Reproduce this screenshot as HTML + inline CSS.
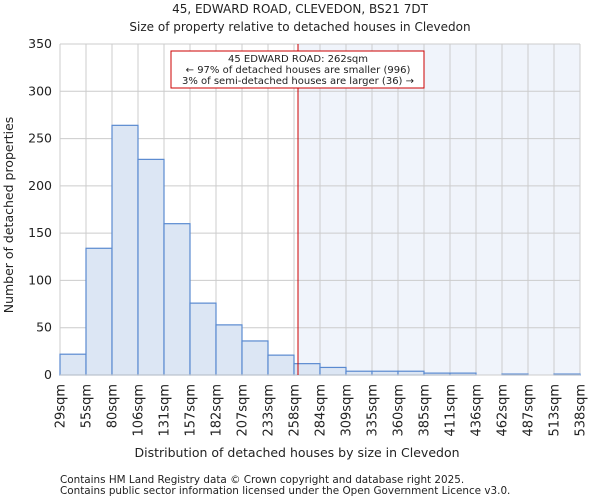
<!DOCTYPE html>
<html><head><meta charset="utf-8"><style>
body{margin:0;background:#fff;font-family:"DejaVu Sans","Liberation Sans",sans-serif}
text{font-family:"DejaVu Sans","Liberation Sans",sans-serif;fill:#222}
</style></head><body>
<svg id="c" width="600" height="500" xmlns="http://www.w3.org/2000/svg">
<text x="300" y="13" font-size="12" text-anchor="middle">45, EDWARD ROAD, CLEVEDON, BS21 7DT</text>
<text x="300" y="31" font-size="12" text-anchor="middle">Size of property relative to detached houses in Clevedon</text>
<g id="plot"></g>
<text x="297" y="457" font-size="12.5" text-anchor="middle">Distribution of detached houses by size in Clevedon</text>
<text transform="translate(13,215) rotate(-90)" font-size="12.5" text-anchor="middle">Number of detached properties</text>
<text x="60" y="483" font-size="10.4">Contains HM Land Registry data © Crown copyright and database right 2025.</text>
<text x="60" y="494" font-size="10.4">Contains public sector information licensed under the Open Government Licence v3.0.</text>
</svg>
<script>
const binLabels=["29sqm","55sqm","80sqm","106sqm","131sqm","157sqm","182sqm","207sqm","233sqm","258sqm","284sqm","309sqm","335sqm","360sqm","385sqm","411sqm","436sqm","462sqm","487sqm","513sqm","538sqm"];
const binEdges=[29,55,80,106,131,157,182,207,233,258,284,309,335,360,385,411,436,462,487,513,538];
const counts=[22,134,264,228,160,76,53,36,21,12,8,4,4,4,2,2,0,1,0,1];
const yTicks=[0,50,100,150,200,250,300,350];
const propertySize=262;
const X0=60,X1=580,Y0=375,Y1=44,YMAX=350;
const nb=counts.length,bw=(X1-X0)/nb;
const y=v=>Y0-(v/YMAX)*(Y0-Y1);
const xv=v=>{for(let i=0;i<binEdges.length-1;i++){if(v<=binEdges[i+1]){return X0+(i+(v-binEdges[i])/(binEdges[i+1]-binEdges[i]))*bw;}}return X1;};
const g=document.getElementById('plot');const NS="http://www.w3.org/2000/svg";
function mk(t,a){const e=document.createElementNS(NS,t);for(const k in a)e.setAttribute(k,a[k]);g.appendChild(e);return e;}
const px=xv(propertySize);
let e=mk('rect',{x:px,y:Y1,width:X1-px,height:Y0-Y1,fill:'#f0f4fb'});


yTicks.forEach(t=>{let l=mk('line',{x1:X0,x2:X1,y1:y(t),y2:y(t),stroke:'#ccc'});


let tx=mk('text',{x:X0-8,y:y(t)+4,'font-size':12.5,'text-anchor':'end'});tx.textContent=t;

});
binLabels.forEach((s,i)=>{const x=X0+i*bw;let l=mk('line',{x1:x,x2:x,y1:Y1,y2:Y0,stroke:'#ccc'});


let tx=mk('text',{transform:`translate(${x+4.5},${Y0+9}) rotate(-90)`,'font-size':13,'text-anchor':'end'});tx.textContent=s;

});
counts.forEach((c,i)=>{if(c<=0)return;let r=mk('rect',{x:X0+i*bw,y:y(c),width:bw,height:Y0-y(c),fill:'#dce6f4',stroke:'#5a8ad0','stroke-width':1.2});

});
let ax=mk('line',{x1:X0,x2:X1,y1:Y0,y2:Y0,stroke:'#ccc'});


let rl=mk('line',{x1:px,x2:px,y1:Y1,y2:Y0,stroke:'#cc0000','stroke-width':1});


let bx=mk('rect',{x:171,y:51,width:253,height:37,fill:'#fff',stroke:'#cc0000','stroke-width':1});


["45 EDWARD ROAD: 262sqm","← 97% of detached houses are smaller (996)","3% of semi-detached houses are larger (36) →"].forEach((s,i)=>{let t=mk('text',{x:298,y:62+i*11,'font-size':10,'text-anchor':'middle'});t.textContent=s;

});
</script>
</body></html>
